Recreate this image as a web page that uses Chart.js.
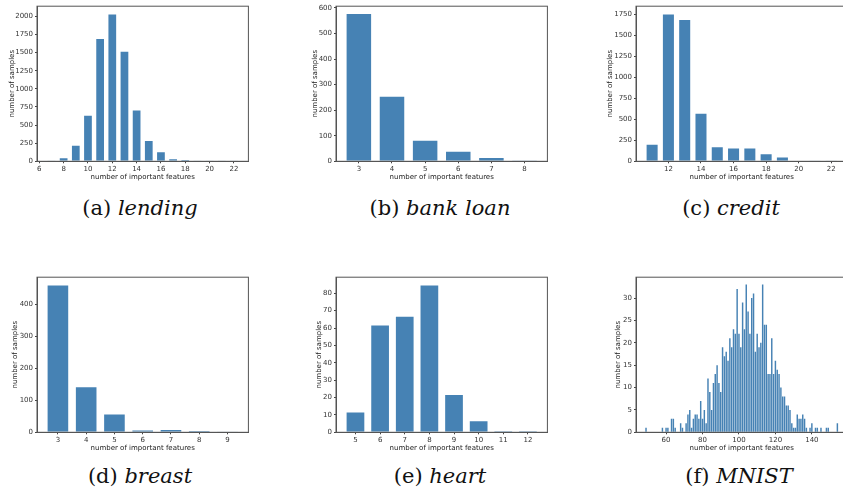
<html>
<head>
  <meta charset="utf-8"/>
  <title>number of important features</title>
  <script src="https://cdn.jsdelivr.net/npm/chart.js"></script>
  <style>
    body {
      margin: 0;
      width: 843px;
      height: 493px;
      overflow: hidden;
      background: #fff;
      position: relative;
    }
    canvas {
      position: absolute;
    }
    .cap {
      position: absolute;
      width: 300px;
      height: 30px;
      line-height: 30px;
      text-align: center;
      font-family: "DejaVu Serif", serif;
      font-size: 21px;
      color: #111;
    }
  </style>
</head>
<body>
  <canvas id="chartA" width="260" height="186" style="left:0px; top:0px"></canvas>
  <canvas id="chartB" width="260" height="186" style="left:299px; top:0px"></canvas>
  <canvas id="chartC" width="260" height="186" style="left:599px; top:0px"></canvas>
  <canvas id="chartD" width="260" height="186" style="left:0px; top:271px"></canvas>
  <canvas id="chartE" width="260" height="186" style="left:299px; top:271px"></canvas>
  <canvas id="chartF" width="260" height="186" style="left:599px; top:271px"></canvas>

  <div class="cap" style="left:-10px; top:193px">(a) <i>lending</i></div>
  <div class="cap" style="left:290px; top:193px">(b) <i>bank loan</i></div>
  <div class="cap" style="left:581px; top:193px">(c) <i>credit</i></div>
  <div class="cap" style="left:-10px; top:461px">(d) <i>breast</i></div>
  <div class="cap" style="left:290px; top:461px">(e) <i>heart</i></div>
  <div class="cap" style="left:589px; top:461px">(f) <i>MNIST</i></div>

  <script>
    // (a) lending
    const lendingFeatures = [7, 8, 9, 10, 11, 12, 13, 14, 15, 16, 17, 18, 19, 20, 21, 22];
    const lendingSamples = [2, 55, 230, 642, 1700, 2040, 1525, 715, 295, 140, 42, 27, 4, 1, 1, 1];
    const lendingXTicks = [6, 8, 10, 12, 14, 16, 18, 20, 22];
    const lendingYTicks = [0, 250, 500, 750, 1000, 1250, 1500, 1750, 2000];

    // (b) bank loan
    const bankFeatures = [3, 4, 5, 6, 7, 8];
    const bankSamples = [580, 257, 84, 41, 17, 4];
    const bankXTicks = [3, 4, 5, 6, 7, 8];
    const bankYTicks = [0, 100, 200, 300, 400, 500, 600];

    // (c) credit
    const creditFeatures = [11, 12, 13, 14, 15, 16, 17, 18, 19, 20, 21, 22];
    const creditSamples = [210, 1757, 1691, 577, 179, 164, 164, 97, 58, 8, 1, 1];
    const creditXTicks = [12, 14, 16, 18, 20, 22];
    const creditYTicks = [0, 250, 500, 750, 1000, 1250, 1500, 1750];

    // (d) breast
    const breastFeatures = [3, 4, 5, 6, 7, 8, 9];
    const breastSamples = [463, 144, 59, 9, 10, 6, 1];
    const breastXTicks = [3, 4, 5, 6, 7, 8, 9];
    const breastYTicks = [0, 100, 200, 300, 400];

    // (e) heart
    const heartFeatures = [5, 6, 7, 8, 9, 10, 11, 12];
    const heartSamples = [12, 62, 67, 85, 22, 7, 1, 1];
    const heartXTicks = [5, 6, 7, 8, 9, 10, 11, 12];
    const heartYTicks = [0, 10, 20, 30, 40, 50, 60, 70, 80];

    // (f) MNIST
    const mnistFeatures = [49, 58, 60, 61, 63, 64, 65, 68, 69, 71, 72, 73, 74, 75, 76, 77, 78, 79, 80,
      81, 82, 83, 84, 85, 86, 87, 88, 89, 90, 91, 92, 93, 94, 95, 96, 97, 98, 99, 100,
      101, 102, 103, 104, 105, 106, 107, 108, 109, 110, 111, 112, 113, 114, 115, 116, 117, 118, 119, 120,
      121, 122, 123, 124, 125, 126, 127, 128, 129, 130, 131, 132, 133, 134, 135, 136, 137, 139, 140,
      142, 143, 145, 148, 149, 154];
    const mnistSamples = [1, 1, 1, 1, 3, 3, 1, 2, 1, 2, 4, 5, 1, 3, 4, 4, 3, 7, 3,
      5, 2, 12, 9, 5, 11, 13, 15, 11, 9, 19, 17, 18, 16, 21, 19, 23, 22, 32, 22,
      19, 29, 23, 33, 27, 22, 30, 31, 18, 22, 19, 20, 33, 24, 24, 13, 13, 21, 13, 16,
      14, 13, 10, 8, 8, 6, 6, 5, 2, 1, 1, 4, 3, 3, 4, 3, 1, 1, 2,
      1, 1, 1, 1, 1, 2];
    const mnistXTicks = [60, 80, 100, 120, 140];
    const mnistYTicks = [0, 5, 10, 15, 20, 25, 30];

    const axisTitle = 'number of important features';
    const valueTitle = 'number of samples';

    const frame = {
      id: 'frame',
      afterDraw(chart) {
        const { ctx, chartArea: a } = chart;
        ctx.save();
        ctx.strokeStyle = '#555';
        ctx.lineWidth = 1;
        ctx.strokeRect(a.left, a.top, a.right - a.left, a.bottom - a.top);
        ctx.restore();
      }
    };

    function makeChart(id, xs, ys, xTicks, yTicks, xMin, xMax, yMax, yTitlePad, thin) {
      const font = { family: 'DejaVu Sans', size: 7 };
      new Chart(document.getElementById(id), {
        type: 'bar',
        data: {
          datasets: [{
            data: xs.map((x, i) => ({ x: x, y: ys[i] })),
            backgroundColor: '#4682b4',
            borderColor: 'rgba(255,255,255,0.45)',
            borderWidth: thin ? 0 : 1,
            barPercentage: 0.8,
            categoryPercentage: 1
          }]
        },
        options: {
          responsive: false,
          animation: false,
          layout: { padding: { top: 4, right: 11.6, left: 0, bottom: 0 } },
          plugins: { legend: { display: false }, tooltip: { enabled: false } },
          scales: {
            x: {
              type: 'linear',
              min: xMin,
              max: xMax,
              offset: false,
              grid: { offset: false, drawOnChartArea: false, drawTicks: true, tickLength: 2, color: '#444' },
              border: { color: '#555' },
              ticks: { font: font, color: '#333', padding: 1.5, maxRotation: 0, callback: v => String(v) },
              afterBuildTicks: s => { s.ticks = xTicks.map(v => ({ value: v })); },
              afterFit: s => { s.height = 24.7; },
              title: { display: true, text: axisTitle, font: font, color: '#222', padding: { top: 5, bottom: 5 } }
            },
            y: {
              min: 0,
              max: yMax,
              grid: { drawOnChartArea: false, drawTicks: true, tickLength: 2, color: '#444' },
              border: { color: '#555' },
              ticks: { font: font, color: '#333', padding: 2, callback: v => String(v) },
              afterBuildTicks: s => { s.ticks = yTicks.map(v => ({ value: v })); },
              afterFit: s => { s.width = 37; },
              title: { display: true, text: valueTitle, font: font, color: '#222', padding: { top: yTitlePad, bottom: 0 } }
            }
          }
        },
        plugins: [frame]
      });
    }

    makeChart('chartA', lendingFeatures, lendingSamples, lendingXTicks, lendingYTicks, 5.81, 23.19, 2140, 7.5, false);
    makeChart('chartB', bankFeatures, bankSamples, bankXTicks, bankYTicks, 2.31, 8.69, 607, 11.8, false);
    makeChart('chartC', creditFeatures, creditSamples, creditXTicks, creditYTicks, 10.01, 22.99, 1843, 7.1, false);
    makeChart('chartD', breastFeatures, breastSamples, breastXTicks, breastYTicks, 2.26, 9.74, 486, 11.2, false);
    makeChart('chartE', heartFeatures, heartSamples, heartXTicks, heartYTicks, 4.21, 12.79, 89.25, 15.5, false);
    makeChart('chartF', mnistFeatures, mnistSamples, mnistXTicks, mnistYTicks, 43.5, 159.5, 34.65, 14.8, true);
  </script>
</body>
</html>
